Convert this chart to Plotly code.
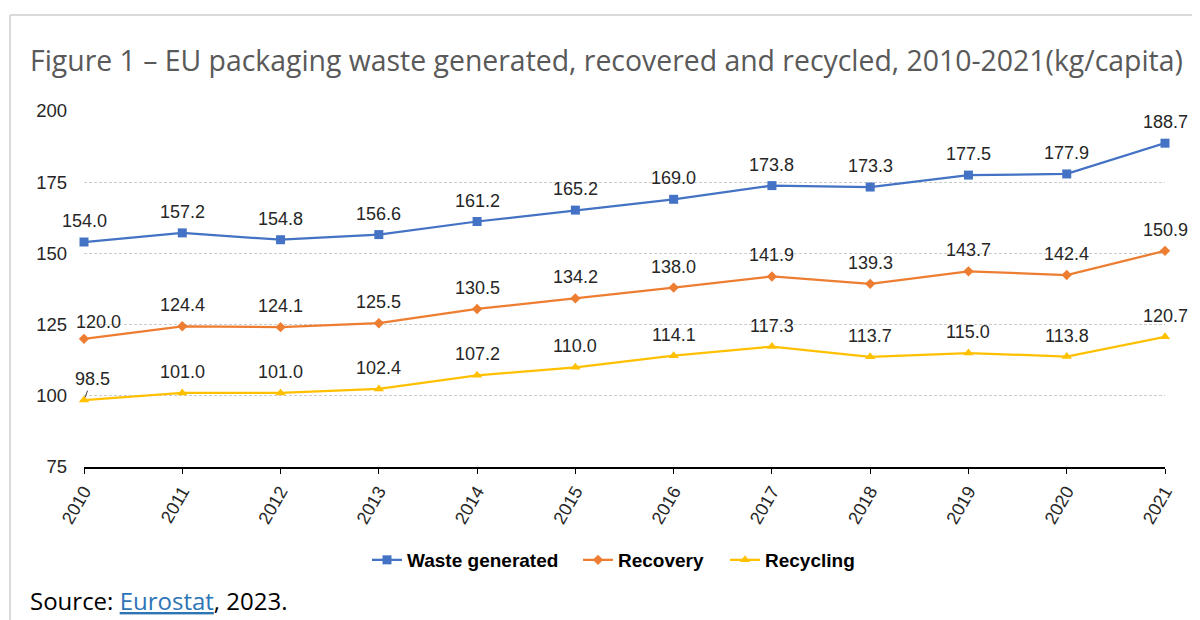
import plotly.graph_objects as go

years = [2010, 2011, 2012, 2013, 2014, 2015, 2016, 2017, 2018, 2019, 2020, 2021]
waste_generated = [154.0, 157.2, 154.8, 156.6, 161.2, 165.2, 169.0, 173.8, 173.3, 177.5, 177.9, 188.7]
recovery = [120.0, 124.4, 124.1, 125.5, 130.5, 134.2, 138.0, 141.9, 139.3, 143.7, 142.4, 150.9]
recycling = [98.5, 101.0, 101.0, 102.4, 107.2, 110.0, 114.1, 117.3, 113.7, 115.0, 113.8, 120.7]
y_ticks = [75, 100, 125, 150, 175, 200]

series = [
    ("Waste generated", waste_generated, "#4472C4", "square"),
    ("Recovery", recovery, "#ED7D31", "diamond"),
    ("Recycling", recycling, "#FFC000", "triangle-up"),
]
legend_starts = [372, 583, 730]  # page x of each legend entry's line start

# page geometry (pixels); the html body adds an 8px margin
OFF = 8
PAGE_W, PAGE_H = 1200, 620
L, R, T, B = 84, 1165, 111, 467
pw, ph = R - L, B - T

def px(xp):
    return (xp - L) / pw

def py(yp):
    return (B - yp) / ph

fig = go.Figure()
annotations = []
legend_layouts = {}
for k, (name, vals, color, sym) in enumerate(series):
    lg = "legend" if k == 0 else f"legend{k + 1}"
    fig.add_trace(go.Scatter(
        x=years, y=vals, name=name, mode="lines+markers",
        line=dict(color=color, width=2.25),
        marker=dict(symbol=sym, size=9 if sym != "diamond" else 8, color=color),
        cliponaxis=False, legend=lg,
    ))
    legend_layouts[lg] = dict(
        orientation="h", x=px(legend_starts[k] - 5), y=py(560), xanchor="left", yanchor="middle",
        font=dict(family="Liberation Sans, Arial", size=19, color="#000000", weight="bold"),
        itemwidth=30, bgcolor="rgba(0,0,0,0)", borderwidth=0,
    )
    for i, (xv, yv) in enumerate(zip(years, vals)):
        xs, ys = 0, 21
        if i == 0:
            if name == "Recovery":
                xs, ys = 14, 17
            elif name == "Recycling":
                xs, ys = 8, 21
        ann = dict(x=xv, y=yv, xref="x", yref="y", text=f"{yv:.1f}",
                   showarrow=False, xshift=xs, yshift=ys,
                   font=dict(family="Liberation Sans, Arial", size=18, color="#262626"))
        if i == 0 and name == "Recycling":
            ann.update(showarrow=True, ax=xs, ay=-ys, xshift=0, yshift=0,
                       arrowhead=0, arrowwidth=1, arrowcolor="#404040",
                       standoff=3, startstandoff=0)
        annotations.append(ann)

# title
annotations.append(dict(
    xref="paper", yref="paper", x=px(28), y=py(60), xanchor="left", yanchor="middle",
    text="Figure 1 – EU packaging waste generated, recovered and recycled, 2010-2021(kg/capita)",
    showarrow=False, font=dict(family="Open Sans, Noto Sans", size=28.4, color="#595959"),
))
# source
annotations.append(dict(
    xref="paper", yref="paper", x=px(28), y=py(600), xanchor="left", yanchor="middle",
    text="Source: <span style='color:#2E75B6;text-decoration:underline'>Eurostat</span>, 2023.",
    showarrow=False, font=dict(family="Open Sans, Noto Sans", size=24, color="#000000"),
))

shapes = [
    dict(type="line", xref="paper", yref="paper", x0=px(10), x1=px(PAGE_W + 5), y0=py(15), y1=py(15),
         line=dict(color="#D9D9D9", width=2)),
    dict(type="line", xref="paper", yref="paper", x0=px(10), x1=px(10), y0=py(15), y1=py(PAGE_H + 5),
         line=dict(color="#D9D9D9", width=2)),
]

fig.update_layout(
    width=PAGE_W - OFF, height=PAGE_H - OFF,
    margin=dict(l=L - OFF, r=PAGE_W - R, t=T - OFF, b=PAGE_H - B),
    paper_bgcolor="white", plot_bgcolor="white",
    showlegend=True,
    annotations=annotations,
    shapes=shapes,
    **legend_layouts,
)
fig.update_xaxes(
    range=[2010, 2021], tickmode="array", tickvals=years, ticktext=[str(y) for y in years],
    tickangle=-60, showgrid=False, showline=True, linecolor="#000000", linewidth=1.5,
    ticks="outside", ticklen=5, tickcolor="#000000", tickwidth=1,
    tickfont=dict(family="Liberation Sans, Arial", size=18, color="#262626"),
    zeroline=False,
)
fig.update_yaxes(
    range=[75, 200], tickmode="array", tickvals=y_ticks, ticktext=[str(v) for v in y_ticks],
    showgrid=True, gridcolor="#CCCCCC", griddash="3px,2px", gridwidth=1,
    showline=False, zeroline=False, ticks="", ticklabelstandoff=16,
    tickfont=dict(family="Liberation Sans, Arial", size=18.5, color="#262626"),
)

fig.write_html("out.html")
